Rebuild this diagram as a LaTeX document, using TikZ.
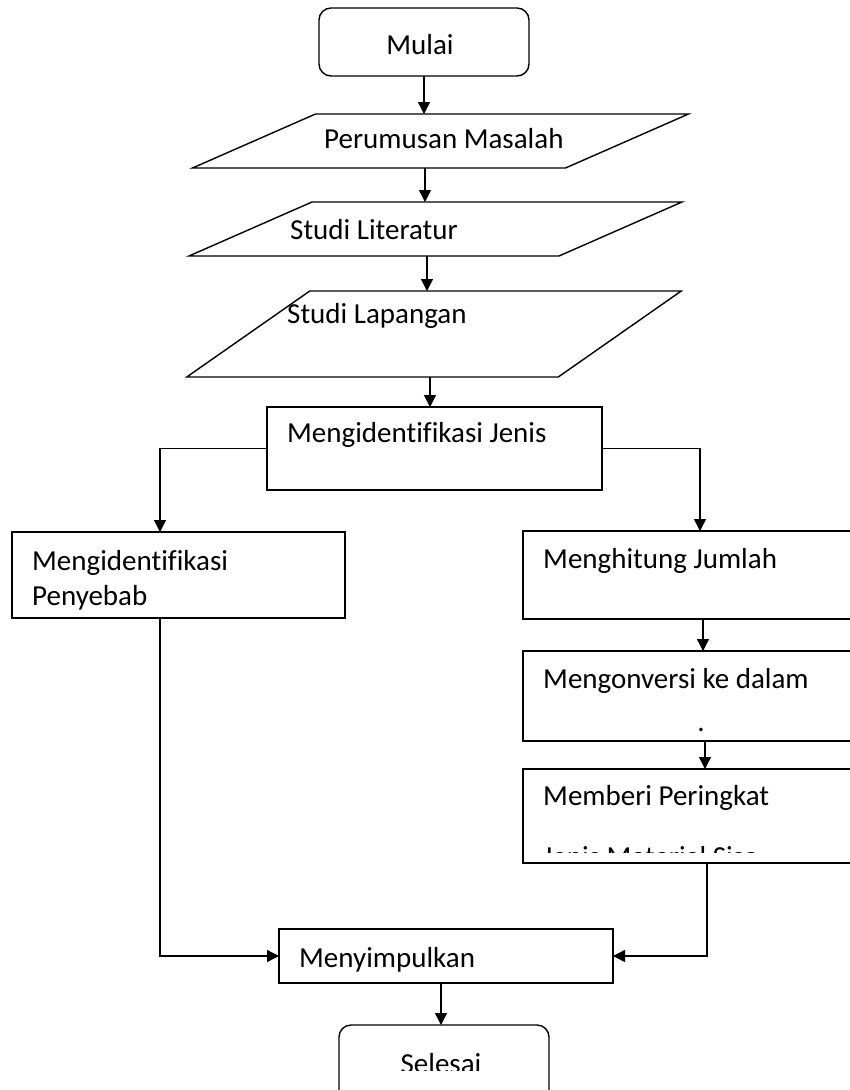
\documentclass[tikz,border=0pt]{standalone}
\usepackage{fontspec}
\setmainfont{Carlito}[Ligatures=NoCommon]
\usetikzlibrary{arrows.meta}
\tikzset{
  ln/.style={line width=1.4pt, draw=black},
  arr/.style={ln, -{Triangle[length=12pt,width=12pt]}},
  box/.style={ln, rectangle, inner sep=0pt, outer sep=0pt},
  term/.style={box, rounded corners=12pt},
  band/.style={rectangle, draw=none, inner sep=0pt, outer sep=0pt},
  txt/.style={anchor=base west, inner sep=0pt, font=\fontsize{29}{35}\selectfont},
  ctxt/.style={anchor=base, inner sep=0pt, font=\fontsize{29}{35}\selectfont}
}
\begin{document}
\begin{tikzpicture}[x=1pt,y=-1pt]
\clip (0,0) rectangle (850,1090);
\fill[white] (0,0) rectangle (850,1090);

% terminals and boxes
\node[term, minimum width=210pt, minimum height=68pt] (mulai) at (424,42) {};
\node[band, minimum width=373pt, minimum height=54pt] (p1) at (440.5,141) {};
\node[band, minimum width=370pt, minimum height=54pt] (p2) at (435.5,229) {};
\node[band, minimum width=371.5pt, minimum height=86pt] (p3) at (434,334) {};
\draw[ln] ([xshift=-61.5pt]p1.south west) -- ([xshift=-61.5pt]p1.south east) -- ([xshift=61.5pt]p1.north east) -- ([xshift=61.5pt]p1.north west) -- cycle;
\draw[ln] ([xshift=-61.5pt]p2.south west) -- ([xshift=-61.5pt]p2.south east) -- ([xshift=61.5pt]p2.north east) -- ([xshift=61.5pt]p2.north west) -- cycle;
\draw[ln] ([xshift=-61.5pt]p3.south west) -- ([xshift=-61.5pt]p3.south east) -- ([xshift=61.5pt]p3.north east) -- ([xshift=61.5pt]p3.north west) -- cycle;
\node[box, minimum width=335pt, minimum height=83pt] (jenis) at (434.5,448.5) {};
\node[box, minimum width=333pt, minimum height=86pt] (penyebab) at (178.5,575) {};
\node[box, minimum width=357pt, minimum height=88pt] (hitung) at (701.5,575) {};
\node[box, minimum width=357pt, minimum height=90pt] (konversi) at (701.5,696) {};
\node[box, minimum width=357pt, minimum height=94pt] (peringkat) at (701.5,816) {};
\node[box, minimum width=334pt, minimum height=54pt] (simpul) at (446,956) {};
\node[term, minimum width=210pt, minimum height=90pt] (selesai) at (444,1070) {};

% texts
\node[ctxt] (tmulai) at (420,54) {Mulai};
\node[txt] (tp1) at (324,148) {Perumusan Masalah};
\node[txt] (tp2) at (290,239) {Studi Literatur};
\node[txt] (tp3) at (287,323) {Studi Lapangan};
\node[txt] (tjenis) at (287,442) {Mengidentifikasi Jenis};
\node[txt] (tpeny1) at (32,570) {Mengidentifikasi};
\node[txt] (tpeny2) at (32,605) {Penyebab};
\node[txt] (thitung) at (543,568) {Menghitung Jumlah};
\node[txt] (tkonv) at (543,688) {Mengonversi ke dalam};
\node[ctxt] (tdot) at (701,731) {.};
\node[txt] (tper) at (543,805) {Memberi Peringkat};
\begin{scope}
\clip (500,846) rectangle (850,852);
\node[txt] (tsisa) at (543,866) {Jenis Material Sisa};
\end{scope}
\node[txt] (tsimpul) at (299,967) {Menyimpulkan};
\begin{scope}
\clip (300,1030) rectangle (600,1070);
\node[ctxt] (tselesai) at (441,1073) {Selesai};
\end{scope}

% connectors
\draw[arr] (mulai.south) -- (mulai.south |- p1.north);
\draw[arr] (425,0 |- p1.south) -- (425,0 |- p2.north);
\draw[arr] (427,0 |- p2.south) -- (427,0 |- p3.north);
\draw[arr] (430,0 |- p3.south) -- (430,0 |- jenis.north);
\draw[arr] (jenis.west) -| (160,0 |- penyebab.north);
\draw[arr] (jenis.east) -| (700,0 |- hitung.north);
\draw[arr] (703,0 |- hitung.south) -- (703,0 |- konversi.north);
\draw[arr] (705,0 |- konversi.south) -- (705,0 |- peringkat.north);
\draw[arr] (707,0 |- peringkat.south) |- (simpul.east);
\draw[arr] (160,0 |- penyebab.south) |- (simpul.west);
\draw[arr] (441,0 |- simpul.south) -- (441,0 |- selesai.north);
\end{tikzpicture}
\end{document}
